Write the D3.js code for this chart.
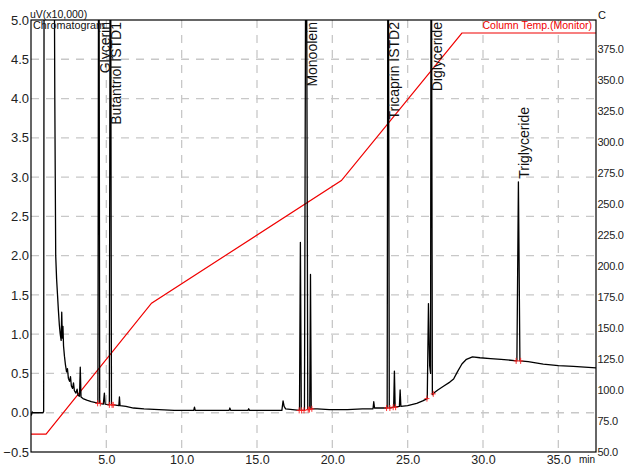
<!DOCTYPE html>
<html>
<head>
<meta charset="utf-8">
<script src="https://cdn.jsdelivr.net/npm/d3@7"></script>
<style>
  body { margin: 0; background: #fff; }
  svg { font-family: "Liberation Sans", Arial, sans-serif; }
</style>
</head>
<body>
<svg width="624" height="466"></svg>
<script>
// tick labels
const timeTicks = [5, 10, 15, 20, 25, 30, 35];
const signalTicks = [-0.5, 0, 0.5, 1, 1.5, 2, 2.5, 3, 3.5, 4, 4.5, 5];
const tempTicks = [50, 75, 100, 125, 150, 175, 200, 225, 250, 275, 300, 325, 350, 375];

// chromatogram trace [min, uV x10,000] - off-scale peaks go past the top
const trace = [
    [0.00, 0.00], [0.03, -0.03], [0.08, 0.01], [0.12, 0.00], [0.80, 0.00], [0.84, 0.02],
    [0.88, 8.0], [1.50, 8.0], [1.58, 4.0], [1.64, 2.0], [1.70, 1.7], [1.76, 1.5], [1.82, 1.3],
    [1.88, 1.12], [1.94, 1.0], [2.00, 0.92], [2.04, 1.28], [2.08, 0.95], [2.12, 1.1], [2.16, 0.85],
    [2.22, 0.72], [2.28, 0.62], [2.36, 0.52], [2.42, 0.56], [2.48, 0.44], [2.56, 0.40], [2.62, 0.46],
    [2.68, 0.34], [2.76, 0.31], [2.82, 0.38], [2.88, 0.28], [2.98, 0.25], [3.06, 0.30], [3.12, 0.22],
    [3.22, 0.21], [3.27, 0.58], [3.32, 0.20], [3.45, 0.18], [3.70, 0.16], [4.00, 0.14], [4.30, 0.13],
    [4.44, 0.12], [4.50, 8.0], [4.56, 0.12], [4.80, 0.11], [4.87, 0.25], [4.92, 0.11], [5.20, 0.10],
    [5.27, 8.0], [5.34, 0.10], [5.50, 0.10], [5.83, 0.09], [5.87, 0.20], [5.91, 0.09], [6.30, 0.08],
    [6.80, 0.06], [7.50, 0.05], [8.50, 0.04], [9.50, 0.03], [10.80, 0.03], [10.85, 0.07], [10.90, 0.03],
    [12.00, 0.03], [13.15, 0.03], [13.20, 0.06], [13.25, 0.03], [14.40, 0.03], [14.45, 0.05],
    [14.50, 0.03], [15.50, 0.03], [16.65, 0.03], [16.73, 0.15], [16.80, 0.08], [16.90, 0.05],
    [17.82, 0.03], [17.88, 2.17], [17.94, 0.03], [18.15, 0.03], [18.26, 8.0], [18.37, 0.04],
    [18.50, 0.04], [18.55, 1.76], [18.60, 0.05], [19.00, 0.05], [19.80, 0.04], [21.00, 0.04],
    [22.00, 0.05], [22.70, 0.05], [22.75, 0.14], [22.80, 0.06], [23.30, 0.06], [23.64, 0.06],
    [23.70, 8.0], [23.78, 0.06], [24.07, 0.07], [24.12, 0.53], [24.17, 0.07], [24.45, 0.08],
    [24.50, 0.29], [24.55, 0.08], [25.00, 0.09], [25.60, 0.12], [26.00, 0.15], [26.30, 0.18],
    [26.38, 1.39], [26.46, 0.60], [26.52, 0.50], [26.56, 8.0], [26.64, 0.23], [26.80, 0.26],
    [27.00, 0.29], [27.40, 0.34], [27.80, 0.39], [28.05, 0.43], [28.30, 0.52], [28.60, 0.62],
    [28.90, 0.68], [29.30, 0.71], [29.80, 0.70], [30.50, 0.69], [31.20, 0.68], [32.25, 0.66],
    [32.35, 2.94], [32.45, 0.66], [33.00, 0.65], [34.00, 0.62], [35.00, 0.60], [36.00, 0.59],
    [37.50, 0.57]
];

// column temperature program [min, C]
const tempProgram = [[0, 64.5], [1.0, 64.5], [8.0, 170], [20.6, 269], [28.6, 388], [37.5, 388]];

// integration marks [min, uV x10,000]
const marks = [
    [4.42, 0.12], [4.60, 0.12], [5.20, 0.10], [5.38, 0.10], [5.46, 0.10],
    [17.80, 0.03], [17.96, 0.03], [18.12, 0.03], [18.40, 0.04], [18.48, 0.04], [18.64, 0.05],
    [23.60, 0.06], [23.82, 0.06], [24.04, 0.07], [24.20, 0.07],
    [26.28, 0.18], [26.70, 0.24], [32.20, 0.66], [32.50, 0.66]
];

// peak names
const peakNames = ['Glycerin', 'Butantriol ISTD1', 'Monoolein', 'Tricaprin ISTD2', 'Diglyceride', 'Triglyceride'];
const peakTimes = [4.50, 5.27, 18.26, 23.70, 26.56, 32.35];
const peakHeights = [null, null, null, null, null, 2.94];

const svg = d3.select('svg');
const plotLeft = 31, plotRight = 596, plotTop = 20, plotBottom = 452;

const xScale = d3.scaleLinear().domain([0, 37.5]).range([plotLeft, plotRight]);
const yScale = d3.scaleLinear().domain([-0.5, 5.0]).range([plotBottom, plotTop]);
const tScale = d3.scaleLinear().domain([50, 398.5]).range([plotBottom, plotTop]);

svg.append('defs').append('clipPath').attr('id', 'plot')
    .append('rect')
    .attr('x', plotLeft).attr('y', plotTop)
    .attr('width', plotRight - plotLeft).attr('height', plotBottom - plotTop);

// grid
const grid = svg.append('g')
    .attr('stroke', '#c8c8c8')
    .attr('stroke-width', 1.3)
    .attr('stroke-dasharray', '8,7');

grid.selectAll('.hgrid')
    .data(signalTicks.filter(d => d > -0.5 && d < 5))
    .join('line')
    .attr('class', 'hgrid')
    .attr('x1', plotLeft).attr('x2', plotRight)
    .attr('y1', d => yScale(d)).attr('y2', d => yScale(d));

grid.selectAll('.vgrid')
    .data(timeTicks)
    .join('line')
    .attr('class', 'vgrid')
    .attr('x1', d => xScale(d)).attr('x2', d => xScale(d))
    .attr('y1', plotTop).attr('y2', plotBottom);

// axes
const fmt = d3.format('.1f');

const yAxisG = svg.append('g')
    .attr('transform', `translate(${plotLeft},0)`)
    .call(d3.axisLeft(yScale).tickValues(signalTicks).tickSize(0).tickPadding(2).tickFormat(fmt));
yAxisG.select('.domain').remove();
yAxisG.selectAll('.tick text').attr('font-size', 13);

const tAxisG = svg.append('g')
    .attr('transform', `translate(${plotRight},0)`)
    .call(d3.axisRight(tScale).tickValues(tempTicks).tickSize(0).tickPadding(1.5).tickFormat(fmt));
tAxisG.select('.domain').remove();
tAxisG.selectAll('.tick text').attr('font-size', 11).attr('letter-spacing', '-0.3');

const xAxisG = svg.append('g')
    .attr('transform', `translate(0,${plotBottom})`)
    .call(d3.axisBottom(xScale).tickValues(timeTicks).tickSize(0).tickPadding(3).tickFormat(fmt));
xAxisG.select('.domain').remove();
xAxisG.selectAll('.tick text').attr('font-size', 12.5);

svg.selectAll('.tick text')
    .attr('font-family', '"Liberation Sans", Arial, sans-serif')
    .attr('fill', '#222');

// temperature line
const tempLine = d3.line()
    .x(d => xScale(d[0]))
    .y(d => tScale(d[1]));

svg.append('path')
    .attr('clip-path', 'url(#plot)')
    .attr('fill', 'none')
    .attr('stroke', '#f00000')
    .attr('stroke-width', 1.2)
    .attr('d', tempLine(tempProgram));

// chromatogram
const traceLine = d3.line()
    .x(d => xScale(d[0]))
    .y(d => yScale(d[1]));

svg.append('path')
    .attr('clip-path', 'url(#plot)')
    .attr('fill', 'none')
    .attr('stroke', '#000')
    .attr('stroke-width', 1.3)
    .attr('stroke-linejoin', 'round')
    .attr('d', traceLine(trace));

// integration marks
const markG = svg.append('g')
    .attr('stroke', '#ff2020')
    .attr('stroke-width', 0.9);

markG.selectAll('path')
    .data(marks)
    .join('path')
    .attr('transform', d => `translate(${xScale(d[0])},${yScale(d[1])})`)
    .attr('d', 'M-2.5,0H2.5M0,-3V3');

// frame
svg.append('rect')
    .attr('x', plotLeft).attr('y', plotTop)
    .attr('width', plotRight - plotLeft).attr('height', plotBottom - plotTop)
    .attr('fill', 'none')
    .attr('stroke', '#000')
    .attr('stroke-width', 1.2);

// peak labels
svg.append('g')
    .selectAll('text')
    .data(peakNames)
    .join('text')
    .attr('font-size', 14)
    .attr('fill', '#111')
    .attr('text-anchor', (d, i) => peakHeights[i] === null ? 'end' : 'start')
    .attr('transform', (d, i) => {
        const px = xScale(peakTimes[i]) + 11;
        const py = peakHeights[i] === null ? plotTop + 2 : yScale(peakHeights[i]) - 3;
        return `translate(${px},${py}) rotate(-90)`;
    })
    .text(d => d);

// headings
svg.append('text')
    .attr('x', 30).attr('y', 18)
    .attr('font-size', 10.5)
    .attr('fill', '#111')
    .text('uV(x10,000)');

svg.append('text')
    .attr('x', 33).attr('y', 28.5)
    .attr('font-size', 10.8)
    .attr('fill', '#111')
    .text('Chromatogram');

svg.append('text')
    .attr('x', 598).attr('y', 18.5)
    .attr('font-size', 11)
    .attr('fill', '#111')
    .text('C');

svg.append('text')
    .attr('x', 592).attr('y', 29)
    .attr('text-anchor', 'end')
    .attr('font-size', 10.5)
    .attr('fill', '#f00000')
    .text('Column Temp.(Monitor)');

svg.append('text')
    .attr('x', 579).attr('y', 463)
    .attr('font-size', 10)
    .attr('fill', '#111')
    .text('min');
</script>
</body>
</html>
